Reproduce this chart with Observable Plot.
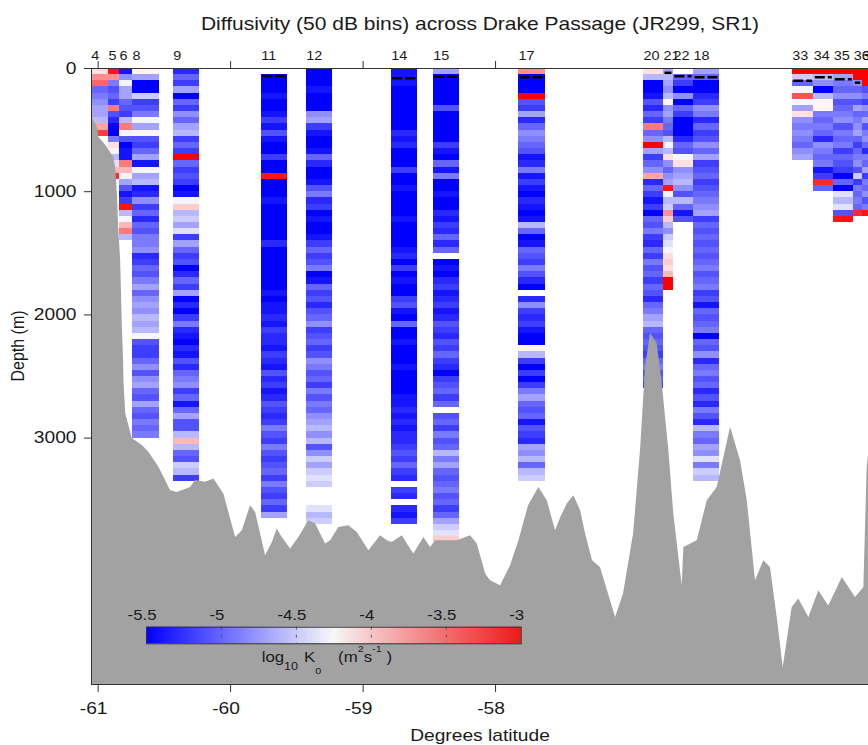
<!DOCTYPE html>
<html><head><meta charset="utf-8">
<script src="https://cdn.jsdelivr.net/npm/d3@7"></script>
<script src="https://cdn.jsdelivr.net/npm/@observablehq/plot@0.6"></script>
<style>
body{margin:0;background:#fff;}
#wrap{position:relative;width:868px;height:745px;overflow:hidden;}
#wrap svg{position:absolute;left:0;top:0;}
</style></head><body><div id="wrap"></div>
<script>
// ---------------- DATA ----------------
const title = "Diffusivity (50 dB bins) across Drake Passage (JR299, SR1)";
const xLabel = "Degrees latitude";
const yLabel = "Depth (m)";
const cbLabel = "log10 K0 (m2s-1)";
const xTicks = [-61, -60, -59, -58];
const yTicks = [0, 1000, 2000, 3000];
const cbTicks = [-5.5, -5, -4.5, -4, -3.5, -3];
const latDomain = [-61.05, -55.185];
const depthDomain = [0, 5000];
const binSize = 50;

const stationNames = ["4","5","6","8","9","11","12","14","15","17","20","21","22","18","33","34","35","36","37"];
const stationLats  = [-61.052,-60.921,-60.838,-60.740,-60.432,-59.768,-59.429,-58.787,-58.470,-57.826,-56.883,-56.732,-56.657,-56.506,-55.761,-55.598,-55.447,-55.296,-55.232];
const firstBin     = [0,0,0,0,0,1,0,0,0,0,0,0,1,0,0,0,0,0,0];
const mldDepth     = [null,null,null,null,null,60,null,80,67,72,null,35,62,72,100,72,88,115,null];

const k4  = [-4.1,-3.7,-3.5,-5.0,-4.9,-4.8,-4.7,-4.7,-4.6,-3.8,-3.3];
const k5  = [-3.1,-3.7,-4.9,-5.1,-5.0,-5.2,-3.6,-5.1,-5.3,-5.5,-5.5,-4.9,-4.1,-4.3,-4.6,-4.4,-3.9,-3.2,-4.3];
const k6  = [-5.4,-4.8,-4.3,-4.7,-4.7,-5.0,-5.1,-5.2,-4.6,-3.6,-4.3,-5.1,-5.5,-5.4,-5.4,-3.6,-3.9,-4.3,-4.7,-5.1,-5.4,-5.2,-3.1,-4.6,-4.3,-3.9,-3.6,-4.6];
const k8  = [-4.2,-4.7,-5.5,-5.5,-4.5,-5.2,-5.1,-4.9,-4.3,-4.7,-4.2,-5.1,-5.2,-5.0,-4.7,-5.4,-4.3,-4.7,-4.6,-5.4,
             -5.3,-4.8,-5.2,-5.0,-5.3,-5.0,-5.1,-4.9,-4.9,-4.8,-5.3,-5.2,-5.0,-5.1,-4.9,-4.7,-5.0,-4.8,-4.7,-4.8,
             -4.6,-4.7,-4.6,-4.3,-5.1,-5.2,-5.2,-5.0,-4.8,-5.1,-4.8,-4.7,-5.0,-5.1,-4.7,-5.0,-5.1,-4.9,-5.0,-4.9];
const k9  = [-5.3,-5.0,-5.2,-4.7,-5.5,-5.0,-5.2,-4.8,-5.0,-4.7,-4.6,-5.2,-5.0,-5.2,-3.0,-5.0,-5.2,-5.1,-5.2,-5.5,
             -5.4,-4.3,-4.0,-4.6,-4.5,-4.7,-4.4,-5.2,-4.7,-5.0,-5.2,-5.1,-5.5,-5.3,-5.0,-5.2,-4.7,-5.5,-5.3,-5.5,
             -5.2,-4.9,-5.3,-5.4,-5.5,-5.3,-5.4,-5.1,-5.3,-5.0,-4.9,-4.8,-5.2,-5.0,-5.4,-5.0,-4.7,-5.1,-5.1,-4.6,
             -3.9,-4.6,-5.0,-5.1,-4.5,-4.6,-5.2];
const k11 = [-5.5,-5.5,-5.5,-5.4,-5.5,-5.5,-5.4,-5.2,-5.4,-5.1,-5.4,-5.5,-5.5,-5.2,-5.5,-5.5,-3.1,
             -5.5,-5.5,-5.5,-5.4,-5.5,-5.5,-5.5,-5.5,-5.5,-5.5,-5.3,-5.5,-5.5,-5.5,-5.5,-5.5,-5.5,-5.5,
             -5.4,-5.5,-5.4,-5.4,-5.3,-5.4,-5.2,-5.3,-5.3,-5.4,-5.2,-5.3,-5.4,-5.1,-5.3,-5.2,-5.4,-5.3,
             -5.1,-5.2,-5.3,-5.2,-4.9,-5.1,-5.2,-4.9,-5.1,-5.2,-5.1,-5.0,-5.2,-4.9,-5.1,-5.2,-5.0,-5.2,-4.7];
const k12 = [-5.5,-5.5,-5.5,-5.4,-5.5,-5.5,-5.5,-4.8,-4.7,-5.2,-5.4,-5.5,-5.5,-5.4,-5.0,-5.3,-5.5,-5.5,-5.4,-5.1,
             -4.9,-5.3,-5.2,-5.5,-5.4,-5.5,-5.5,-5.4,-5.2,-5.0,-5.2,-5.1,-4.9,-5.5,-5.4,-5.0,-5.2,-5.1,-5.3,-5.1,
             -5.0,-4.8,-5.2,-5.1,-5.0,-5.2,-5.1,-4.8,-4.9,-5.1,-5.0,-5.2,-4.9,-5.1,-4.9,-5.0,-4.8,-4.7,-4.6,-4.8,
             -4.6,-5.1,-4.8,-4.5,-4.7,-4.5,-4.4,-4.5,null,null,null,-4.4,-4.6,-4.5];
const k14 = [-5.4,-5.4,-5.4,-5.5,-5.5,-5.5,-5.5,-5.5,-5.5,-5.5,-5.3,-5.4,-5.3,-5.5,-5.5,-5.5,-5.2,
             -5.5,-5.5,-5.4,-5.5,-5.5,-5.5,-5.5,-5.4,-5.5,-5.5,-5.5,-5.5,-5.4,-5.3,-5.5,-5.2,-5.5,-5.4,-5.5,-5.5,
             -5.2,-5.1,-5.4,-5.5,-5.0,-5.5,-5.5,-5.4,-5.5,-5.5,-5.5,-5.4,-5.5,-5.5,-5.5,-5.5,-5.4,
             -5.4,-5.3,-5.4,-5.3,-5.4,-5.3,-5.3,-5.2,-5.1,-5.2,-5.0,-5.2,-5.3,null,-5.2,-5.3,null,-5.3,-5.4,-5.2];
const k15 = [-4.7,-5.5,-5.5,-5.5,-5.5,-5.5,-5.1,-5.5,-5.5,-5.5,-5.5,-5.5,-5.2,-5.4,-5.5,-5.0,-5.4,-4.9,
             -5.5,-5.5,-5.4,-5.5,-5.5,-5.3,-5.4,-5.2,-5.3,-5.0,-5.3,-5.0,null,
             -5.5,-5.4,-5.5,-5.3,-5.2,-5.4,-5.3,-5.2,-5.4,-5.3,-5.1,-5.2,-5.3,-5.1,-5.2,-5.0,-5.2,-5.3,-5.5,-5.2,
             -5.1,-5.0,-5.2,-5.0,null,-5.1,-5.0,-5.2,-4.9,-5.1,-5.0,-4.6,-4.9,-4.7,
             -5.0,-5.1,-5.0,-4.9,-5.1,-5.0,-5.2,-5.0,-4.7,-4.5,-4.4,-4.0];
const k17 = [-3.7,-5.5,-5.5,-5.5,-3.0,-5.1,-5.2,-4.7,-5.3,-5.0,-4.8,-4.9,-5.0,-5.1,-5.4,-5.3,-4.9,-5.4,-5.2,
             -5.4,-5.5,-5.3,-5.4,-5.5,-5.4,-4.6,-5.0,-5.5,-5.4,-5.0,-5.1,-5.2,-4.9,-5.1,-5.3,-5.5,null,
             -5.3,-4.8,-5.2,-5.3,-5.2,-5.4,-5.5,-5.5,-4.2,-4.6,
             -5.2,-5.5,-5.2,-5.5,-5.2,-4.9,-4.7,-5.0,-5.1,-5.0,-5.4,-5.1,-5.2,-5.3,-4.7,-4.8,-4.6,-5.0,-4.6,-4.5];
const k20 = [-4.1,-4.6,-5.5,-5.5,-5.4,-5.1,-5.3,-5.0,-5.2,-3.6,-5.0,-4.8,-3.0,-4.7,-5.2,-5.0,-4.8,-3.8,-5.3,-5.0,
             -5.2,-5.4,-5.2,-5.5,-5.0,-5.1,-4.9,-5.2,-5.3,-5.0,-5.2,-4.9,-5.1,-5.0,-5.2,-5.0,-5.1,-5.3,-5.0,-4.9,
             -4.7,-4.6,-5.0,-5.1,-5.0,-5.1,-5.2,-5.0,-4.9,-5.1,-5.0,-5.2];
const k21 = [-4.7,-4.6,-4.7,-4.8,-4.6,-4.2,-4.8,-4.7,-4.9,-5.0,-5.1,-4.6,-4.3,-4.6,-4.1,-4.8,-5.0,-4.8,-4.7,-3.1,
             -4.3,-4.6,-4.5,-3.7,-4.0,-4.6,-4.8,-4.5,-4.4,-4.3,-4.1,-4.0,-4.1,-3.9,-3.0,-3.0];
const k22 = [-5.0,-5.2,-5.5,-4.8,-5.5,-5.0,-5.2,-5.5,-5.5,-5.5,-5.3,-5.0,-5.1,-4.3,-4.1,-4.8,-4.7,-4.6,-4.8,-5.1,
             -4.6,-5.0,-5.4,-5.1];
const k18 = [-4.7,-5.0,-5.5,-5.5,-5.3,-5.2,-4.8,-4.9,-5.3,-5.0,-5.2,-5.1,-4.8,-5.0,-4.7,-5.2,-5.1,-5.0,-5.2,-5.1,
             -5.0,-4.9,-4.8,-4.7,-5.2,-5.0,-5.1,-5.0,-5.1,-5.0,-5.1,-5.0,-4.9,-5.1,-5.0,-4.9,-5.2,-5.1,-5.4,-5.0,
             -5.1,-5.0,-4.9,-5.5,-5.0,-5.1,-4.8,-5.3,-5.0,-4.9,-5.1,-5.0,-5.3,-5.1,-5.3,-4.9,-5.1,-5.3,-4.6,-4.9,
             -5.0,-4.7,-4.8,-4.4,-4.9,-4.5,-4.6];
const k33 = [-3.0,-4.5,-5.0,-4.3,-3.4,-4.3,-4.7,-4.1,-4.8,-4.9,-4.8,-4.9,-5.0,-4.8,-4.7];
const k34 = [-3.0,-4.6,-4.8,-5.5,-4.6,-4.2,-4.2,-4.9,-5.0,-4.9,-5.0,-5.3,-4.8,-4.9,-5.0,-4.9,-5.4,-5.2,-3.2,-5.0];
const k35 = [-3.0,-4.7,-4.9,-5.0,-4.8,-5.1,-5.0,-4.9,-4.8,-5.1,-4.9,-5.0,-4.9,-5.2,-5.0,-5.1,-5.2,-5.5,-5.0,-5.5,
             -4.4,-4.6,-4.4,-5.1,-3.1];
const k36 = [-3.0,-3.0,-4.8,-5.0,-4.8,-5.1,-4.7,-5.0,-4.9,-4.8,-4.7,-5.0,-5.2,-5.0,-4.9,-4.8,-5.1,-4.5,-5.2,-4.9,
             -5.0,-4.9,-5.0,-3.2];
const k37 = [-3.0,-3.0,-3.0,-5.1,-4.9,-5.2,-4.8,-5.0,-4.7,-5.1,-4.9,-4.8,-5.0,-5.3,-4.9,-5.0,-4.7,-5.2,-4.9,-5.0,
             -4.8,-5.1,-4.9,-3.1];
const kappa = [k4,k5,k6,k8,k9,k11,k12,k14,k15,k17,k20,k21,k22,k18,k33,k34,k35,k36,k37];

const bathyLat = [-61.050,-61.006,-60.996,-60.943,-60.883,-60.868,-60.855,-60.845,-60.830,-60.817,
                  -60.808,-60.805,-60.792,-60.742,-60.666,-60.617,-60.541,-60.453,-60.402,-60.302,
                  -60.264,-60.189,-60.126,-60.051,-59.962,-59.912,-59.849,-59.811,-59.736,-59.685,
                  -59.648,-59.610,-59.547,-59.485,-59.409,-59.358,-59.283,-59.245,-59.183,-59.107,
                  -59.044,-58.956,-58.868,-58.817,-58.780,-58.704,-58.666,-58.617,-58.541,-58.491,
                  -58.453,-58.390,-58.289,-58.189,-58.138,-58.075,-58.038,-57.962,-57.887,-57.824,
                  -57.751,-57.673,-57.610,-57.547,-57.502,-57.459,-57.409,-57.358,-57.321,-57.268,
                  -57.208,-57.094,-57.034,-56.958,-56.906,-56.868,-56.830,-56.780,-56.742,-56.692,
                  -56.655,-56.591,-56.579,-56.478,-56.402,-56.327,-56.226,-56.151,-56.100,-56.038,
                  -55.975,-55.925,-55.874,-55.829,-55.761,-55.711,-55.635,-55.560,-55.485,-55.383,
                  -55.283,-55.220,-55.195,-55.170];
const bathyDepth = [390,473,557,622,720,801,1012,1289,1557,2102,
                    2370,2532,2801,3004,3061,3115,3237,3427,3441,3400,
                    3345,3359,3332,3454,3806,3752,3549,3603,3955,3847,
                    3738,3806,3901,3806,3671,3698,3860,3833,3725,3711,
                    3766,3915,3793,3833,3847,3793,3860,3941,3806,3888,
                    3833,3833,3833,3793,3860,4104,4158,4199,4036,3833,
                    3549,3400,3508,3752,3630,3535,3467,3589,3776,3996,
                    4050,4457,4264,3776,3102,2427,2150,2232,2557,3102,
                    3614,4199,3888,3833,3508,3400,2912,3183,3508,4158,
                    3996,4050,4457,4863,4376,4307,4457,4240,4362,4132,
                    4294,4213,3237,3020];

// ---------------- BUILD ----------------
const W = 868, H = 745;
const FONT = "'Liberation Sans', Arial, Helvetica, sans-serif";
const STRETCH = 1.2;
const colWidth = 0.2;
const colorScale = {type: "linear", domain: [-5.5, -4.25, -3], range: ["#0000ff", "#ffffff", "#ff0000"], interpolate: "rgb", clamp: true};

const columns = stationNames.map((name, i) => ({
  name, lat: stationLats[i],
  right: Math.min(stationLats[i] + colWidth, i + 1 < stationLats.length ? stationLats[i + 1] : Infinity),
  mld: mldDepth[i]
}));
const cells = [];
columns.forEach((c, i) => {
  kappa[i].forEach((v, j) => {
    if (v == null) return;
    const k = firstBin[i] + j;
    cells.push({x1: Math.max(c.lat, latDomain[0]), x2: c.right, y1: k * binSize, y2: (k + 1) * binSize, v});
  });
});
const bathy = bathyLat.map((lat, i) => ({lat, depth: bathyDepth[i]}));

const main = Plot.plot({
  width: W, height: H,
  marginLeft: 91, marginRight: 0, marginTop: 68, marginBottom: 61,
  style: {fontFamily: FONT, fontSize: "16px", background: "transparent", color: "#1a1a1a"},
  x: {domain: latDomain, axis: null},
  y: {domain: depthDomain, reverse: true, axis: null},
  color: colorScale,
  marks: [
    Plot.rect(cells, {x1: "x1", x2: "x2", y1: "y1", y2: "y2", fill: "v", shapeRendering: "crispEdges"}),
    Plot.areaY(bathy, {x: "lat", y1: depthDomain[1], y2: "depth", fill: "#a2a2a2", curve: "linear"}),
    Plot.ruleY(columns.filter(c => c.mld != null), {x1: "lat", x2: "right", y: "mld", stroke: "#000", strokeWidth: 2.5, strokeDasharray: "10,3", insetLeft: 1.5, insetRight: 1.5}),
    Plot.ruleY(depthDomain, {stroke: "#333"}),
    Plot.ruleX([latDomain[0]], {stroke: "#333"}),
    Plot.axisX({anchor: "bottom", ticks: xTicks, tickSize: 8, tickFormat: () => "", label: null, stroke: "#333"}),
    Plot.axisX({anchor: "top", ticks: xTicks, tickSize: 8, tickFormat: () => "", label: null, stroke: "#333"}),
    Plot.text(xTicks, {x: d => d, text: d => String(d), frameAnchor: "bottom", lineAnchor: "middle", dy: 24.3, dx: -4.5, fontSize: 16}),
    Plot.axisY({anchor: "left", ticks: yTicks, tickSize: 7, tickPadding: 8, tickFormat: d => String(d), label: null, stroke: "#333", fontSize: 16}),
    Plot.text(columns, {x: "lat", text: "name", frameAnchor: "top", lineAnchor: "middle", textAnchor: "start", dy: -12, fontSize: 12}),
    Plot.text([title], {frameAnchor: "top", lineAnchor: "middle", dy: -44.4, fontSize: 17.5}),
    Plot.text([yLabel], {frameAnchor: "left", lineAnchor: "middle", rotate: -90, dx: -73.5, dy: 5, fontSize: 16}),
    Plot.text([xLabel], {frameAnchor: "bottom", lineAnchor: "middle", dy: 50.9, fontSize: 16})
  ]
});

const cbN = 375;
const cbStep = (cbTicks[cbTicks.length - 1] - cbTicks[0]) / cbN;
const cbSlices = d3.range(cbN).map(i => cbTicks[0] + i * cbStep);
const bar = Plot.plot({
  width: W, height: H,
  marginLeft: 146, marginRight: W - 520.7, marginTop: 626.7, marginBottom: H - 643.3,
  style: {fontFamily: FONT, fontSize: "14px", background: "transparent", color: "#1a1a1a"},
  x: {domain: [cbTicks[0], cbTicks[cbTicks.length - 1]], axis: null},
  y: {domain: [0, 1], axis: null},
  color: colorScale,
  marks: [
    Plot.rect(cbSlices, {x1: d => d, x2: d => d + cbStep * 1.05, y1: 0, y2: 1, fill: d => d + cbStep / 2}),
    Plot.tickX(cbTicks.slice(1, -1), {x: d => d, stroke: "#444", strokeDasharray: "3,5", strokeOpacity: 0.8}),
    Plot.frame({stroke: "#333"}),
    Plot.text(cbTicks, {x: d => d, text: d => String(d), frameAnchor: "top", lineAnchor: "middle", dy: -11.2, dx: -4.5, fontSize: 14}),
    Plot.text([cbLabel], {frameAnchor: "bottom", lineAnchor: "middle", dy: 13.9, dx: -7, fontSize: 14})
  ]
});

// rich label with sub/superscripts
function richLabel(svg) {
  svg.querySelectorAll("text").forEach(t => {
    if (t.textContent !== cbLabel) return;
    while (t.firstChild) t.removeChild(t.firstChild);
    const parts = [["log", 0, 14, 0], ["10", 8, 10.5, 0], ["K", -8, 14, 5], ["0", 11.7, 9, 0],
                   ["(m", -11.7, 14, 14], ["2", -10, 9, 0], ["s", 10, 14, 0], ["-1", -10, 9, 0], [")", 10, 14, 4]];
    parts.forEach(([s, dy, fs, dx]) => {
      const ts = document.createElementNS("http://www.w3.org/2000/svg", "tspan");
      ts.textContent = s;
      if (dy) ts.setAttribute("dy", dy);
      if (dx) ts.setAttribute("dx", dx);
      ts.setAttribute("font-size", fs);
      t.appendChild(ts);
    });
  });
}
function stretchText(svg, k) {
  svg.querySelectorAll("text").forEach(t => {
    const tf = t.getAttribute("transform") || "";
    const x = parseFloat(t.getAttribute("x")) || 0;
    t.removeAttribute("x");
    if (/rotate/.test(tf)) t.setAttribute("transform", `${tf} translate(${x},0) scale(1,${k})`);
    else t.setAttribute("transform", `${tf} translate(${x},0) scale(${k},1)`);
  });
}
richLabel(bar);
stretchText(main, STRETCH);
stretchText(bar, STRETCH);
const wrap = document.getElementById("wrap");
wrap.appendChild(main);
wrap.appendChild(bar);
</script></body></html>
